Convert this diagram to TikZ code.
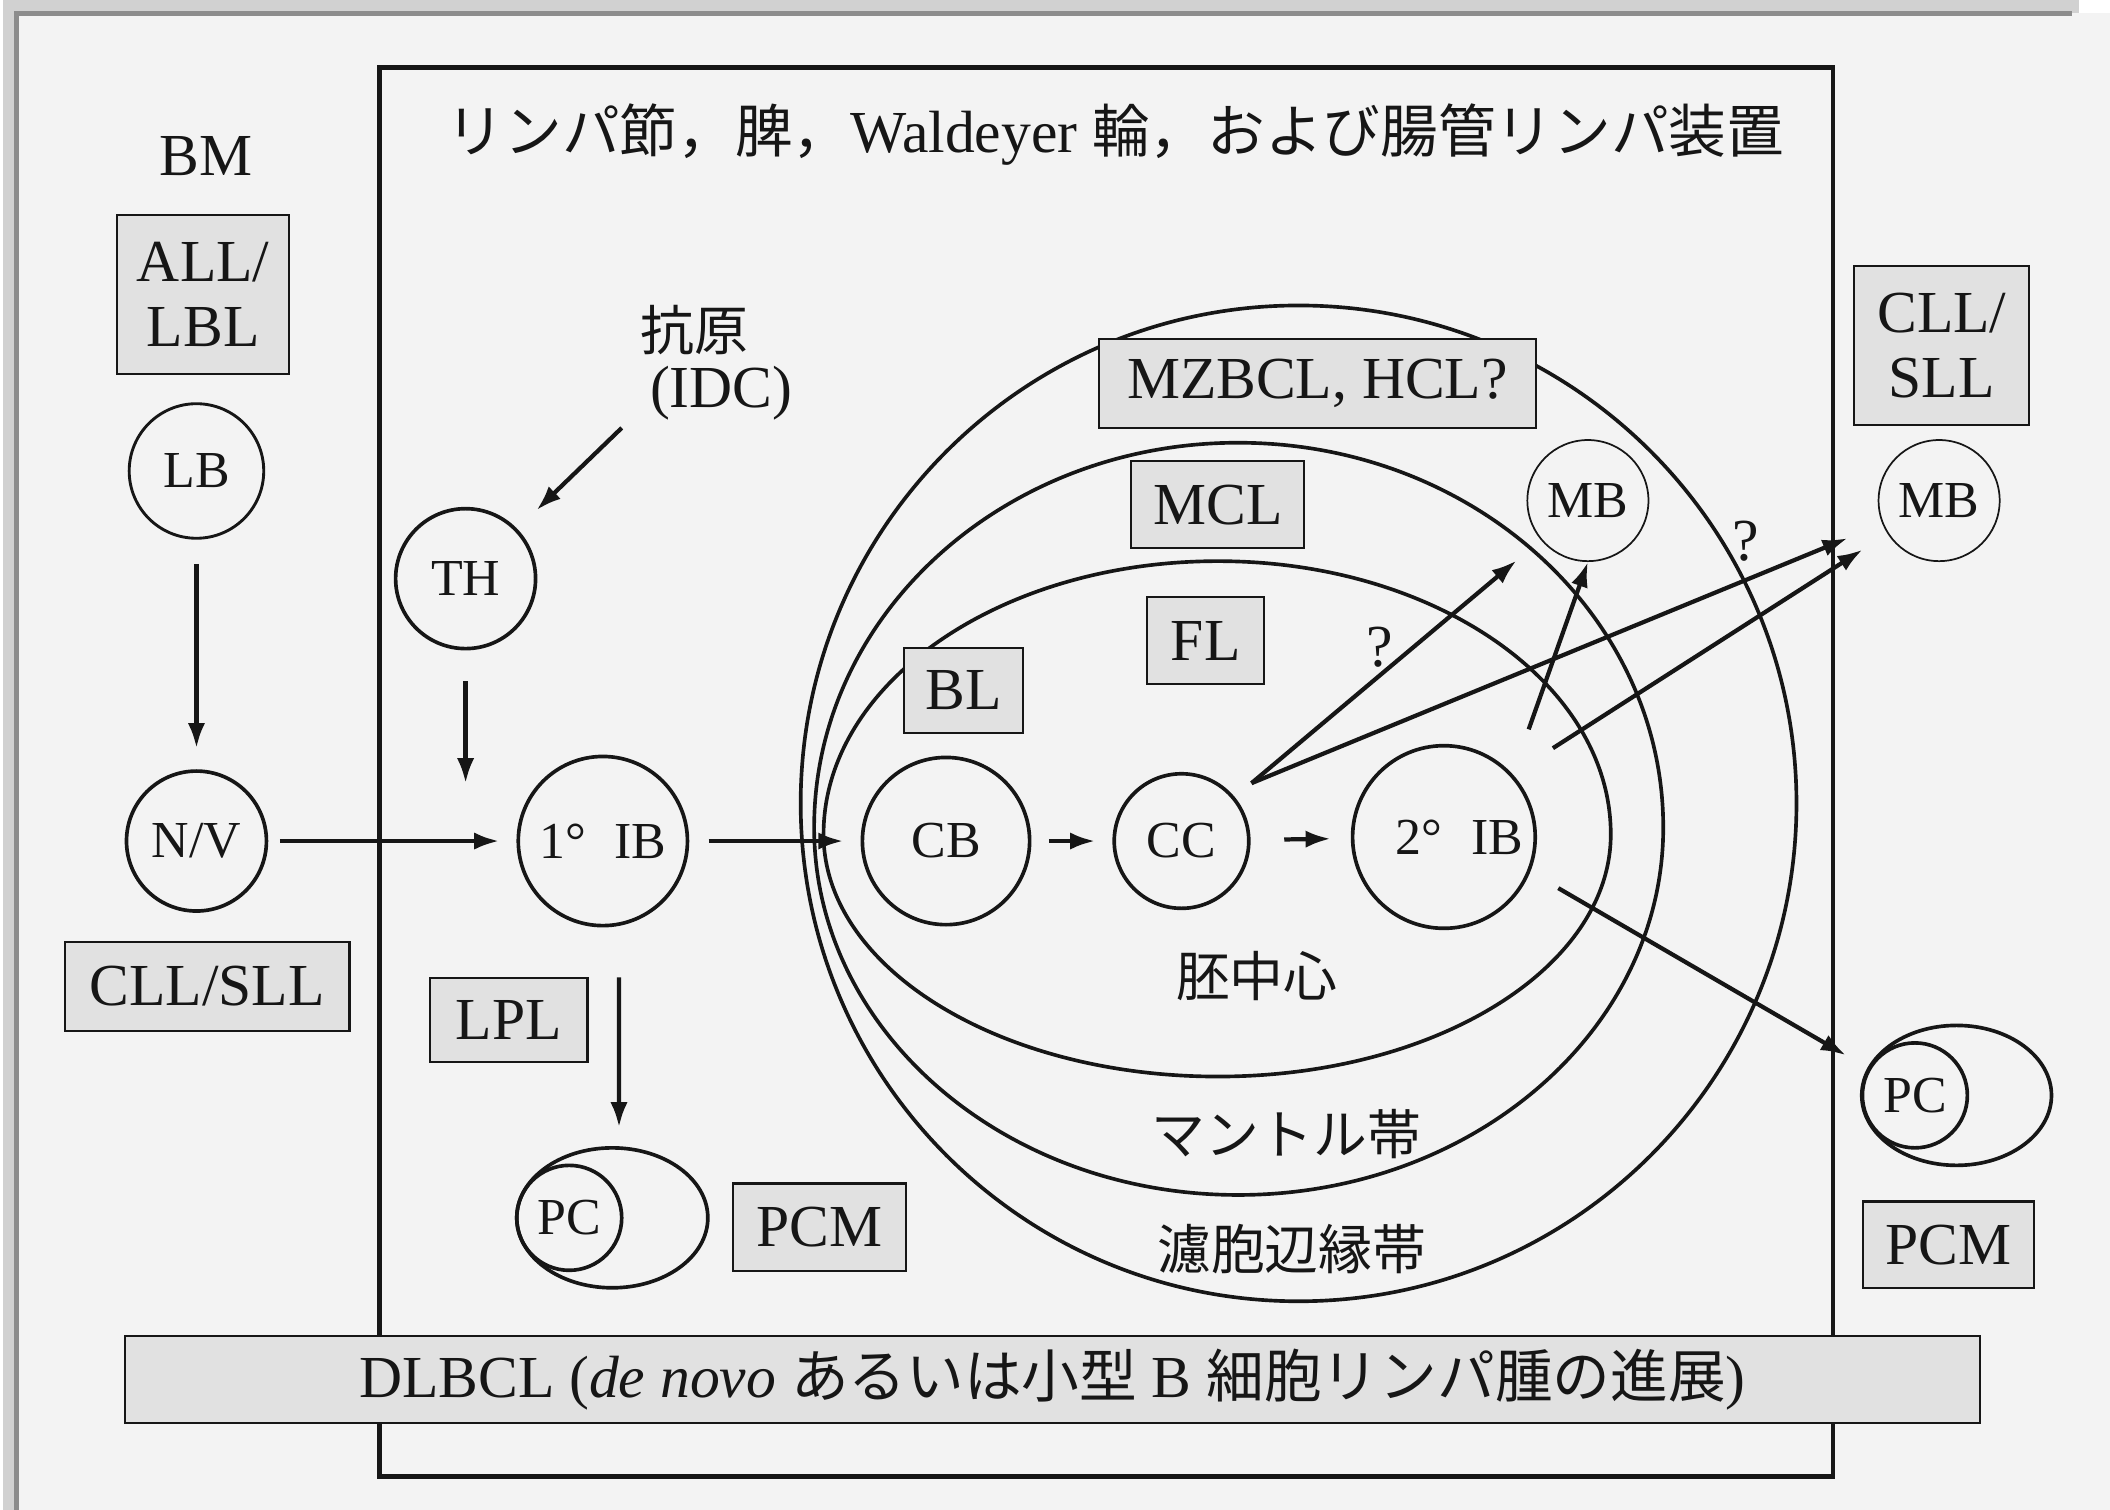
\documentclass[tikz,border=0pt]{standalone}
\usepackage{fontspec}
\setmainfont{Liberation Serif}
\newfontfamily\cjk{Noto Sans CJK JP}
\usetikzlibrary{arrows.meta,shapes.geometric}
\definecolor{pagebg}{RGB}{243,243,243}
\definecolor{boxbg}{RGB}{225,225,225}
\definecolor{ink}{RGB}{22,22,22}
\newcommand{\jp}[1]{{\fontsize{30}{34}\selectfont\cjk #1}}
\begin{document}
\begin{tikzpicture}[x=0.7pt,y=-0.7pt,
  txt/.style={font=\fontsize{31}{36}\selectfont, text=ink, inner sep=0pt},
  jtxt/.style={font=\fontsize{28}{33}\selectfont\cjk, text=ink, inner sep=0pt},
  lbox/.style={draw=ink, fill=boxbg, line width=1.1pt, inner sep=0pt, text=ink,
               font=\fontsize{31}{34}\selectfont, align=center},
  cell/.style={draw=ink, circle, line width=1.9pt, inner sep=0pt, text=ink,
               font=\fontsize{27}{30}\selectfont},
  thincell/.style={cell, line width=0.9pt},
  pcell/.style={draw=ink, ellipse, line width=1.9pt, inner sep=0pt},
  arr/.style={draw=ink, line width=2.2pt, -{Latex[length=13pt,width=9pt]}},
  zone/.style={draw=ink, line width=1.9pt},
]
% page
\useasboundingbox (0,0) rectangle (1568,1122);
\fill[white] (0,0) rectangle (1568,1122);
\fill[pagebg] (12,10) rectangle (1568,1122);
\draw[black!18, line width=7pt] (7,1122) -- (7,5) -- (1545,5);
\draw[black!45, line width=2.5pt] (12,1122) -- (12,10) -- (1540,10);

% main frame
\draw[ink, line width=2.4pt] (282,50) rectangle (1362,1097);

% follicle zones
\draw[zone] (965,597) ellipse [x radius=370, y radius=370];
\draw[zone] (605,615) .. controls (605,457) and (746,329) .. (920,329)
   .. controls (1094.5,329) and (1236,457) .. (1236,615)
   .. controls (1236,765.8) and (1094.5,888) .. (920,888)
   .. controls (746,888) and (605,765.8) .. (605,615) -- cycle;
\draw[zone] (612,620) .. controls (612,507.9) and (743.2,417) .. (905,417)
   .. controls (1066.3,417) and (1197,507.9) .. (1197,620)
   .. controls (1197,719.4) and (1066.3,800) .. (905,800)
   .. controls (743.2,800) and (612,719.4) .. (612,620) -- cycle;

% title
\node[txt] (title) at (829,100) {\jp{リンパ節，脾，}Waldeyer \jp{輪，および腸管リンパ装置}};

% bone marrow column
\node[txt] (bm) at (153,116) {BM};
\node[lbox, minimum width=89.6pt, minimum height=82.6pt] (all) at (151,219) {ALL/\\LBL};
\node[cell, minimum size=70pt, line width=1.5pt] (lb) at (146,350) {LB};
\node[cell, minimum size=72.8pt] (nv) at (146,625) {N/V};
\node[lbox, minimum width=148pt, minimum height=46pt] (cllL) at (154,733) {CLL/SLL};

% antigen, TH, primary IB
\node[jtxt] (ag1) at (516,245) {抗原};
\node[txt] (ag2) at (536,292) {(IDC)};
\coordinate (agout) at (462,318);
\node[cell, minimum size=72.8pt] (th) at (346,430) {TH};
\node[cell, minimum size=88pt] (ib1) at (448,625) {1°\hspace{0.55em}IB};
\coordinate (thend) at (346,582);
\node[lbox, minimum width=82pt, minimum height=44pt] (lpl) at (378,758) {LPL};
\node[pcell, minimum width=99.4pt, minimum height=72.8pt] (pcl) at (455,905) {};
\node[cell, minimum size=54.6pt] (pcli) at (423,905) {PC};
\node[lbox, minimum width=90pt, minimum height=45.5pt] (pcmL) at (609,912) {PCM};

% germinal centre
\node[lbox, minimum width=61.6pt, minimum height=44pt] (bl) at (716,513) {BL};
\node[lbox, minimum width=61pt, minimum height=45.5pt] (fl) at (896,476) {FL};
\node[lbox, minimum width=90pt, minimum height=45pt] (mcl) at (905,375) {MCL};
\node[lbox, minimum width=227pt, minimum height=46pt] (mzb) at (979,285) {MZBCL, HCL?};
\node[cell, minimum size=87pt] (cb) at (703,625) {CB};
\node[cell, minimum size=70pt] (cc) at (878,625) {CC};
\node[cell, minimum size=95pt] (ib2) at (1073,622) {\hspace{0.6em}2°\hspace{0.55em}IB};
\node[thincell, minimum size=63pt] (mbi) at (1180,372) {MB};
\node[jtxt] (gc) at (934,725) {胚中心};
\node[jtxt] (mantle) at (956,843) {マントル帯};
\node[jtxt] (mz) at (960,928) {濾胞辺縁帯};

% right column
\node[lbox, minimum width=91pt, minimum height=82.6pt] (cllR) at (1443,257) {CLL/\\SLL};
\node[thincell, minimum size=63pt] (mbo) at (1441,372) {MB};
\node[pcell, minimum width=98.7pt, minimum height=72.8pt] (pcr) at (1454,814) {};
\node[cell, minimum size=54.6pt] (pcri) at (1423,814) {PC};
\node[lbox, minimum width=89pt, minimum height=45pt] (pcmR) at (1448,925) {PCM};

% DLBCL band
\node[lbox, minimum width=965pt, minimum height=45.5pt] (dl) at (782,1025)
  {DLBCL (\textit{de novo} \jp{あるいは小型} B \jp{細胞リンパ腫の進展})};

% arrows
\draw[arr, shorten <=12.6pt, shorten >=11pt] (lb) -- (nv);
\draw[arr, shorten <=6pt, shorten >=9pt] (nv) -- (ib1);
\draw[arr, shorten >=14pt] (agout) -- (th);
\draw[arr] ([yshift=-16pt]th.south) -- (thend);
\draw[arr, shorten <=10pt, shorten >=9pt] (ib1) -- (cb);
\draw[arr] ([xshift=8.4pt,yshift=-26pt]ib1.south) -- ([xshift=3.5pt,yshift=9.8pt]pcl.north);
\draw[arr, shorten <=9pt, shorten >=9pt] (cb) -- (cc);
\draw[arr, shorten <=17.5pt, shorten >=10.5pt] (cc) -- (ib2);

\coordinate (ccout) at ([shift={(52,-43)}]cc.center);
\draw[arr, shorten >=16.6pt] (ccout) -- (mbi);
\draw[arr, shorten >=19.6pt] (ccout) -- (mbo);
\node[txt] (q1) at (1025,481) {?};
\coordinate (ib2a) at ([shift={(63,-80)}]ib2.center);
\draw[arr] (ib2a) -- (mbi.south);
\coordinate (ib2b) at ([shift={(81,-66)}]ib2.center);
\draw[arr, shorten >=15.4pt] (ib2b) -- (mbo);
\coordinate (ib2c) at ([shift={(85,38)}]ib2.center);
\draw[arr, shorten >=13.3pt] (ib2c) -- (pcri);
\node[txt] (q2) at (1297,402) {?};
\end{tikzpicture}
\end{document}
